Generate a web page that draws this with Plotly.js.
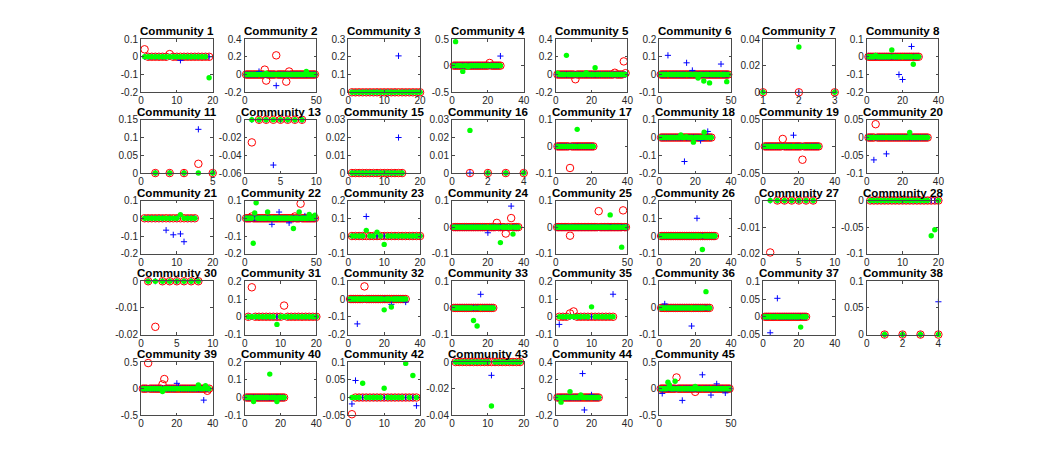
<!DOCTYPE html>
<html>
<head>
<meta charset="utf-8">
<script src="https://cdn.plot.ly/plotly-3.0.1.min.js"></script>
<style>html,body{margin:0;padding:0;background:#fff;}#chart{width:1038px;height:467px;}</style>
</head>
<body>
<div id="chart"></div>
<script>
// ---- Data ----
const communityIds = [1,2,3,4,5,6,7,8, 11,13,15,16,17,18,19,20, 21,22,23,24,25,26,27,28, 30,31,32,33,35,36,37,38, 39,40,42,43,44,45];
const pointCounts  = [19,49,20,27,39,48,3,29, 5,8,15,4,21,29,31,34, 15,49,20,37,49,31,7,20, 8,20,32,23,16,28,24,4, 38,22,19,19,24,49];

const xTicks = [
  [0,10,20],[0,50],[0,10,20],[0,20,40],[0,20,40],[0,50],[1,2,3],[0,20,40],
  [0,5],[0,5,10],[0,10,20],[0,2,4],[0,20,40],[0,20,40],[0,20,40],[0,20,40],
  [0,10,20],[0,50],[0,10,20],[0,20,40],[0,50],[0,20,40],[0,5,10],[0,10,20],
  [0,5,10],[0,10,20],[0,20,40],[0,20,40],[0,10,20],[0,20,40],[0,20,40],[0,2,4],
  [0,20,40],[0,20,40],[0,10,20],[0,10,20],[0,20,40],[0,50]
];
const yTicks = [
  [-0.2,-0.1,0,0.1],[-0.2,0,0.2,0.4],[0,0.1,0.2,0.3],[-0.5,0,0.5],[-0.2,0,0.2,0.4],[-0.1,0,0.1,0.2],[0,0.02,0.04],[-0.2,-0.1,0,0.1],
  [0,0.05,0.1,0.15],[-0.06,-0.04,-0.02,0],[0,0.01,0.02,0.03],[0,0.01,0.02,0.03],[-0.1,0,0.1],[-0.2,-0.1,0,0.1],[-0.05,0,0.05],[-0.1,-0.05,0,0.05],
  [-0.2,-0.1,0,0.1],[-0.2,-0.1,0,0.1],[-0.1,0,0.1,0.2],[-0.1,0,0.1],[-0.1,0,0.1],[-0.1,0,0.1,0.2],[-0.02,-0.01,0],[-0.1,-0.05,0],
  [-0.02,-0.01,0],[-0.1,0,0.1,0.2],[-0.2,-0.1,0,0.1],[-0.1,0,0.1],[-0.1,0,0.1,0.2],[-0.1,0,0.1],[-0.05,0,0.05,0.1],[0,0.05,0.1],
  [-0.5,0,0.5],[-0.1,0,0.1,0.2],[-0.05,0,0.05,0.1],[-0.04,-0.02,0],[-0.2,0,0.2,0.4],[-0.5,0,0.5]
];

// Non-zero values: [community, index, value]; all other points are 0
const redOutliers = [
  [1,1,0.042],[1,8,0.015],
  [2,14,0.055],[2,15,-0.068],[2,22,0.216],[2,29,-0.08],[2,31,0.034],
  [4,21,0.05],
  [5,11,-0.053],[5,33,0.02],[5,38,0.148],[5,39,0.015],
  [11,4,0.026],
  [13,1,-0.0255],
  [17,8,-0.081],
  [19,11,0.014],[19,22,-0.025],
  [20,5,0.0375],
  [22,5,0.01],[22,35,0.01],[22,39,0.082],
  [24,25,0.016],[24,30,-0.024],[24,33,0.034],
  [25,10,-0.032],[25,30,0.06],[25,47,0.063],
  [27,1,-0.0195],
  [30,2,-0.0171],
  [31,2,0.166],[31,11,0.063],
  [32,9,0.071],
  [35,4,0.019],[35,5,0.03],
  [39,4,0.48],[39,12,0.08],[39,13,0.18],[39,37,-0.04],
  [42,1,-0.047],
  [45,12,0.21],[45,25,-0.06]
];
const blueOutliers = [
  [1,11,-0.02],
  [2,10,0.034],[2,22,-0.125],
  [3,14,0.205],
  [4,27,0.18],
  [6,6,0.108],[6,19,0.066],[6,23,0.023],[6,43,0.059],
  [8,18,-0.1],[8,20,-0.128],[8,25,0.058],
  [11,4,0.123],
  [13,4,-0.051],
  [15,14,0.02],
  [18,14,-0.135],[18,23,-0.017],[18,27,0.034],
  [19,17,0.021],
  [20,4,-0.063],[20,11,-0.046],
  [21,7,-0.067],[21,9,-0.093],[21,11,-0.088],[21,12,-0.132],
  [22,19,-0.034],[22,24,0.035],[22,31,-0.026],[22,42,0.013],
  [23,5,0.11],
  [24,20,-0.021],[24,33,0.079],
  [26,21,0.10],
  [32,5,-0.14],[32,24,-0.03],[32,32,-0.017],
  [33,16,0.051],
  [35,1,-0.043],[35,16,0.127],
  [36,3,0.015],[36,18,-0.068],
  [37,4,-0.045],[37,8,0.052],
  [38,4,0.0615],
  [39,20,0.1],[39,21,0.04],[39,35,-0.215],
  [42,1,-0.018],[42,2,0.048],[42,19,-0.023],
  [43,11,-0.01],
  [44,15,0.27],[44,16,-0.14],[44,20,0.03],
  [45,2,-0.09],[45,16,-0.22],[45,30,0.26],[45,36,-0.12],[45,40,0.09],[45,46,-0.08]
];
const greenOutliers = [
  [1,19,-0.118],
  [2,15,0.015],[2,43,0.034],
  [4,2,0.45],[4,6,-0.108],[4,9,-0.025],
  [5,1,0.015],[5,6,0.216],[5,17,0.02],[5,22,0.076],
  [6,27,-0.02],[6,31,-0.036],[6,35,-0.047],[6,47,-0.04],
  [7,2,0.034],
  [8,5,0.008],[8,14,0.038],[8,26,-0.042],
  [16,1,0.024],
  [17,12,0.064],
  [18,12,0.015],[18,15,0.005],[18,19,-0.026],[18,25,0.03],
  [20,24,0.014],
  [21,11,0.02],
  [22,6,-0.141],[22,7,0.03],[22,8,0.087],[22,16,0.035],[22,34,-0.058],[22,38,0.035],[22,45,0.022],[22,49,0.017],
  [23,5,0.032],[23,8,0.022],[23,10,-0.047],
  [24,27,-0.058],[24,34,-0.026],
  [25,38,0.046],[25,46,-0.075],
  [26,24,-0.076],
  [28,18,-0.066],[28,19,-0.055],
  [31,9,-0.043],
  [32,20,-0.061],[32,24,-0.045],
  [33,12,-0.047],[33,14,-0.068],
  [35,10,0.056],
  [36,26,0.061],
  [37,21,-0.029],
  [39,12,-0.055],[39,32,0.07],[39,36,0.055],
  [40,5,-0.022],[40,14,0.132],[40,18,-0.022],
  [42,4,0.04],[42,10,0.026],[42,16,0.096],[42,18,0.062],
  [43,11,-0.033],
  [44,3,-0.052],[44,8,0.067],[44,14,0.03],
  [45,6,0.12],[45,7,0.07],[45,11,0.14],[45,25,0.04]
];

// ---- Build figure ----
function buildSeries(k, outliers) {
  const id = communityIds[k], n = pointCounts[k];
  const x = [], y = [];
  for (let i = 1; i <= n; i++) { x.push(i); y.push(0); }
  outliers.forEach(o => { if (o[0] === id && o[1] <= n) y[o[1] - 1] = o[2]; });
  return {x, y};
}

const W = 1038, H = 467;
const left0 = 141, colStep = 103.67, axW = 71.7;
const top0 = 39, rowStep = 80.75, axH = 53.3;
const fontFam = 'Liberation Sans, Arial, Helvetica, sans-serif';
const axisColor = '#4a4a4a';

const traces = [];
const layout = {
  width: W, height: H,
  margin: {l: 0, r: 0, t: 0, b: 0},
  paper_bgcolor: '#ffffff', plot_bgcolor: '#ffffff',
  showlegend: false,
  annotations: []
};

communityIds.forEach((id, k) => {
  const col = k % 8, row = Math.floor(k / 8);
  const L = left0 + col * colStep, T = top0 + row * rowStep;
  const xd = [L / W, (L + axW) / W];
  const yd = [1 - (T + axH) / H, 1 - T / H];
  const sfx = k === 0 ? '' : String(k + 1);
  const xa = 'x' + sfx, ya = 'y' + sfx;

  const red = buildSeries(k, redOutliers);
  const blue = buildSeries(k, blueOutliers);
  const green = buildSeries(k, greenOutliers);

  traces.push({x: red.x, y: red.y, xaxis: xa, yaxis: ya, type: 'scatter', mode: 'markers', cliponaxis: false,
    marker: {symbol: 'circle-open', size: 7.5, color: '#ff0000', line: {width: 1, color: '#ff0000'}}, hoverinfo: 'skip'});
  traces.push({x: blue.x, y: blue.y, xaxis: xa, yaxis: ya, type: 'scatter', mode: 'markers', cliponaxis: false,
    marker: {symbol: 'cross-thin-open', size: 4.4, color: '#0000ff', line: {width: 1, color: '#0000ff'}}, hoverinfo: 'skip'});
  traces.push({x: green.x, y: green.y, xaxis: xa, yaxis: ya, type: 'scatter', mode: 'markers', cliponaxis: false,
    marker: {symbol: 'circle', size: 5.4, color: '#00ff00', line: {width: 0}}, hoverinfo: 'skip'});

  const xt = xTicks[k], yt = yTicks[k];
  const common = {
    ticks: 'inside', ticklen: 2.5, tickwidth: 1, tickcolor: axisColor,
    showline: true, mirror: 'ticks', linecolor: axisColor, linewidth: 1,
    showgrid: false, zeroline: false, fixedrange: true,
    tickfont: {family: fontFam, size: 10, color: '#262626'}
  };
  layout['xaxis' + sfx] = Object.assign({}, common, {
    domain: xd, anchor: ya, range: [xt[0], xt[xt.length - 1]],
    tickmode: 'array', tickvals: xt, ticktext: xt.map(String),
    ticklabelstandoff: -1
  });
  layout['yaxis' + sfx] = Object.assign({}, common, {
    domain: yd, anchor: xa, range: [yt[0], yt[yt.length - 1]],
    tickmode: 'array', tickvals: yt, ticktext: yt.map(String)
  });
  layout.annotations.push({
    text: '<b>Community ' + id + '</b>', xref: 'paper', yref: 'paper',
    x: (xd[0] + xd[1]) / 2, y: yd[1], xanchor: 'center', yanchor: 'bottom',
    yshift: 1, borderpad: 0, showarrow: false, font: {family: fontFam, size: 11.6, color: '#000000'}
  });
});

Plotly.newPlot('chart', traces, layout, {staticPlot: true, displayModeBar: false});
</script>
</body>
</html>
